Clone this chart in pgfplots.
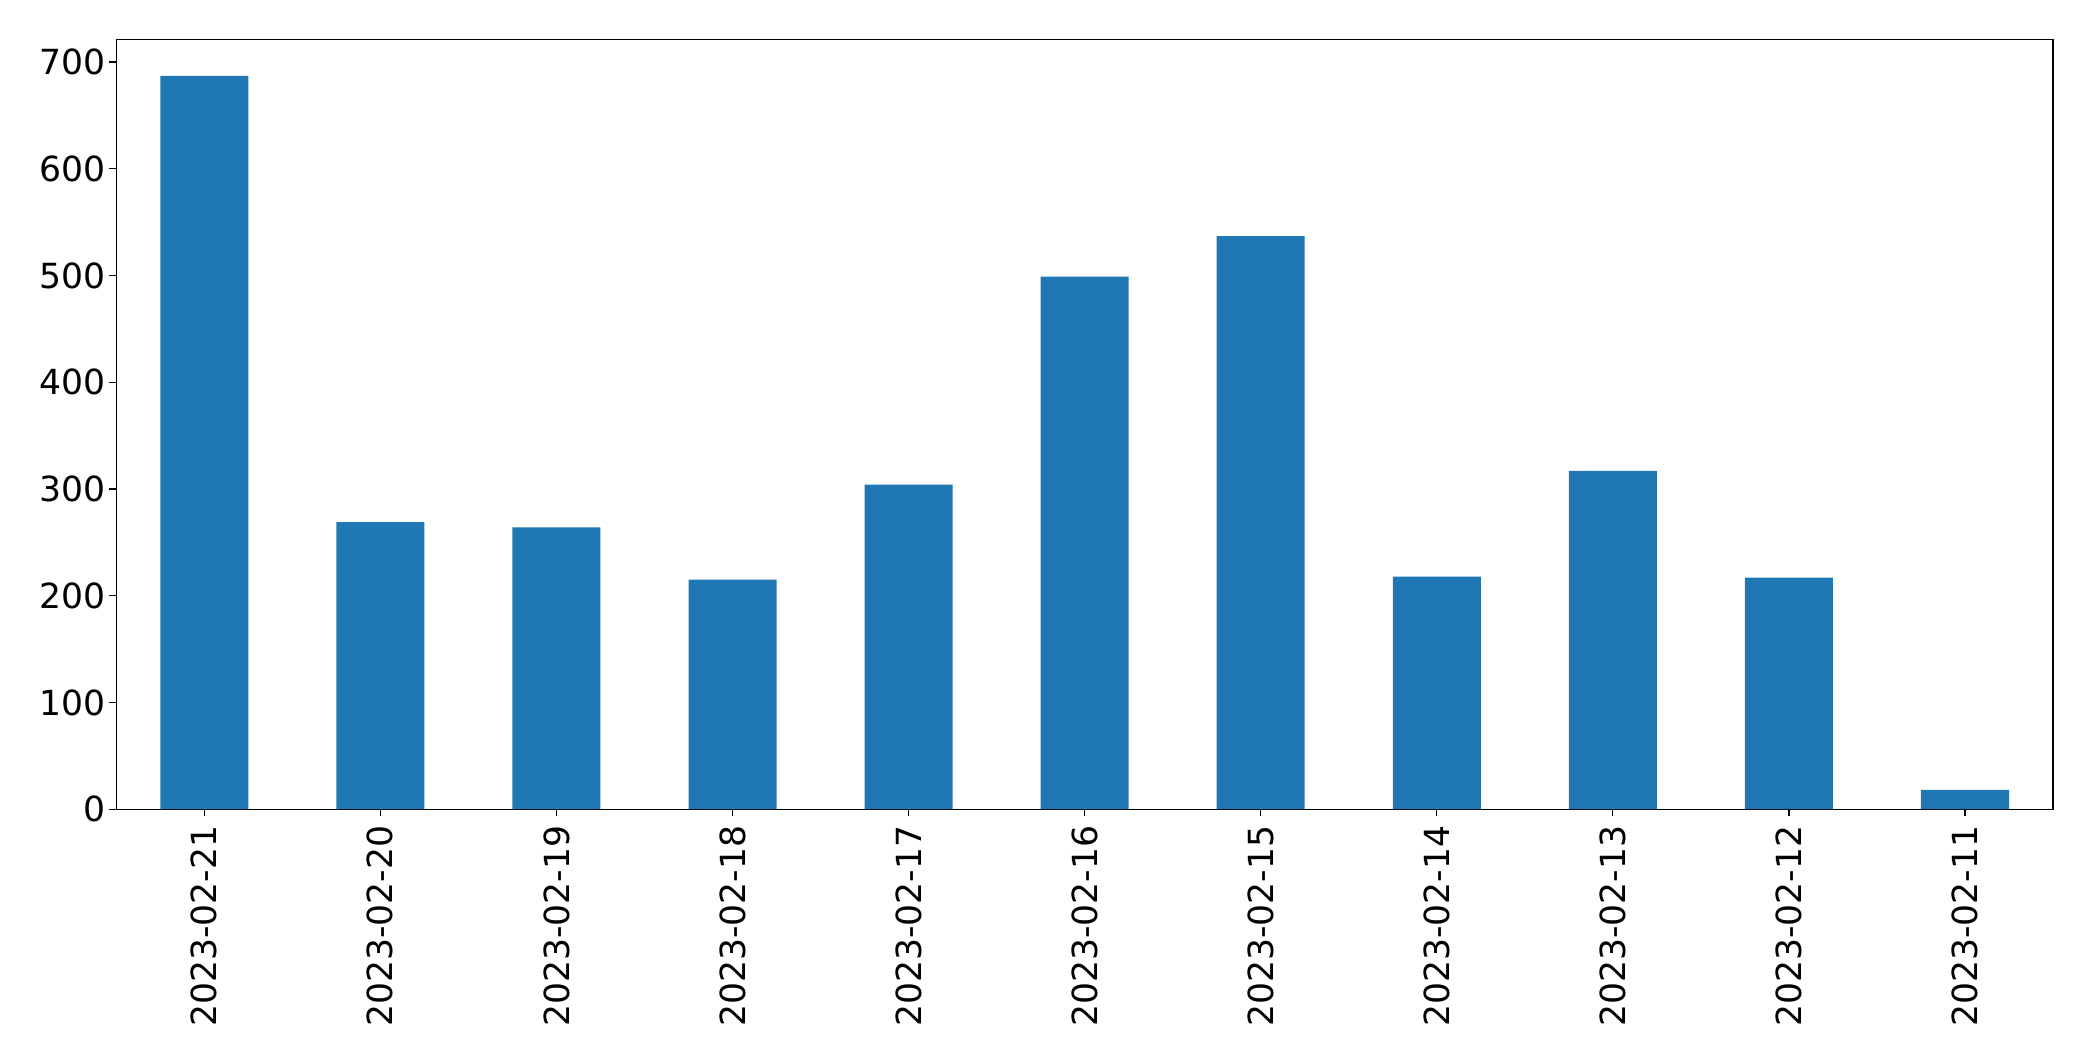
\documentclass[border=0pt]{standalone}
\usepackage{pgfplots}
\pgfplotsset{compat=1.18}
\usepackage{fontspec}
\setmainfont{DejaVu Sans}
\definecolor{mplblue}{HTML}{1F77B4}
\begin{document}
\begin{tikzpicture}
\path[use as bounding box] (-58.15pt,-125.85pt) rectangle (988.5pt,404.65pt);
\begin{axis}[
  at={(0pt,0pt)}, anchor=south west,
  scale only axis,
  width=968.5pt, height=385pt,
  xmin=-0.5, xmax=10.5,
  ymin=0, ymax=721.35,
  axis line style={line width=0.6pt},
  tick style={line width=0.6pt, black},
  major tick length=3.5pt,
  tick align=outside,
  tick pos=left,
  xtick={0,1,2,3,4,5,6,7,8,9,10},
  xticklabels={2023-02-21,2023-02-20,2023-02-19,2023-02-18,2023-02-17,2023-02-16,2023-02-15,2023-02-14,2023-02-13,2023-02-12,2023-02-11},
  ytick={0,100,200,300,400,500,600,700},
  /pgf/number format/assume math mode=true,
  ticklabel style={font=\fontsize{17.3}{20}\selectfont},
  x tick label style={rotate=90, anchor=east, inner sep=4.5pt},
  y tick label style={inner sep=1.9pt},
  scaled y ticks=false,
  clip=false,
]
\addplot[ybar, bar width=0.5, fill=mplblue, draw=none, bar shift=0pt]
coordinates {
(0,687) (1,269) (2,264) (3,215) (4,304) (5,499) (6,537) (7,218) (8,317) (9,217) (10,18)
};
\end{axis}
\end{tikzpicture}
\end{document}
